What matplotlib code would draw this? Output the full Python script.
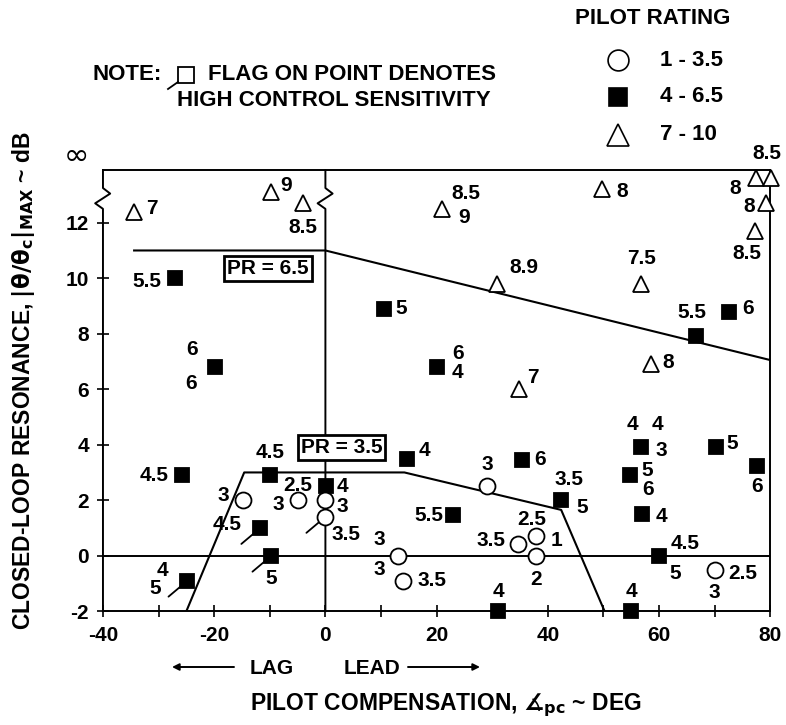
import matplotlib.pyplot as plt
from matplotlib.lines import Line2D

plt.rcParams['font.family'] = ['Liberation Sans', 'DejaVu Sans']
plt.rcParams['font.weight'] = 'bold'
plt.rcParams['axes.unicode_minus'] = False
plt.rcParams['mathtext.default'] = 'bf'

# pilot rating 4 - 6.5 (filled squares)
sq_x = [-27, -19.8, 10.6, 20, 66.7, 72.5, -25.7, -9.9, 0.1, -11.7, -9.7, -24.8,
        14.7, 22.9, 35.4, 42.3, 31.1, 55, 60, 56.8, 54.7, 57, 70.3, 77.7]
sq_y = [10.0, 6.8, 8.9, 6.8, 7.9, 8.8, 2.9, 2.9, 2.5, 1.0, 0.0, -0.9,
        3.5, 1.45, 3.45, 2.0, -2.0, -2.0, 0.0, 3.9, 2.9, 1.5, 3.9, 3.25]
sq_pr = [['5.5'], ['6', '6'], ['5'], ['6', '4'], ['5.5'], ['6'], ['4.5'], ['4.5'],
         ['4'], ['4.5'], ['5'], ['4', '5'], ['4'], ['5.5'], ['6'], ['3.5', '5'],
         ['4'], ['4'], ['4.5', '5'], ['4', '4', '3'], ['5', '6'], ['4'], ['5'], ['6']]
sq_flag = [9, 10, 11]

# pilot rating 1 - 3.5 (open circles)
circ_x = [-14.9, -5, 0, 0, 13, 13.9, 29.1, 37.9, 34.7, 37.8, 70]
circ_y = [2.0, 2.0, 2.0, 1.4, 0.0, -0.9, 2.5, 0.7, 0.43, 0.0, -0.5]
circ_pr = [['3'], ['2.5', '3'], ['3'], ['3.5'], ['3', '3'], ['3.5'], ['3'],
           ['2.5', '1'], ['3.5'], ['2'], ['2.5', '3']]
circ_flag = [3]

# pilot rating 7 - 10 (open triangles)
tri_x = [-34.4, -9.7, -4.1, 21, 49.8, 77.5, 80.2, 79.3, 77.3, 30.8, 56.7, 34.9, 58.5]
tri_y = [12.4, 13.1, 12.7, 12.5, 13.2, 13.6, 13.6, 12.7, 11.7, 9.8, 9.8, 6.0, 6.9]
tri_pr = [['7'], ['9'], ['8.5'], ['8.5', '9'], ['8'], ['8'], ['8.5'], ['8'], ['8.5'],
          ['8.9'], ['7.5'], ['7'], ['8']]

# boundaries
pr65_x = [-34.4, 0, 80]
pr65_y = [11, 11, 7.05]
pr35_x = [-25, -14.6, 14.2, 42.4, 50.2]
pr35_y = [-2, 3, 3, 1.65, -2]

# label offsets (pixels, right / up)
sq_off = [[(-28, -3)], [(-23, 18), (-24, -16)], [(17, 0)], [(21, 14), (21, -5)],
          [(-4, 24)], [(19, 3)], [(-28, 0)], [(0, 23)], [(16, 0)], [(-33, 3)],
          [(0, -23)], [(-25, 10), (-32, -8)], [(17, 8)], [(-24, 0)], [(18, 0)],
          [(8, 21), (22, -7)], [(0, 20)], [(0, 20)], [(26, 12), (16, -18)],
          [(-9, 23), (16, 23), (20, -3)], [(18, 5), (18, -14)], [(19, -2)],
          [(16, 4)], [(0, -21)]]
circ_off = [[(-19, 5)], [(0, 15), (-19, -4)], [(17, -6)], [(21, -18)],
            [(-18, 16), (-18, -14)], [(29, 0)], [(0, 22)], [(-4, 17), (20, -4)],
            [(-27, 3)], [(0, -24)], [(28, -4), (0, -23)]]
tri_off = [[(18, 3)], [(15, 7)], [(0, -24)], [(24, 15), (22, -9)], [(20, -2)],
           [(-21, -10)], [(-5, 25)], [(-17, -3)], [(-8, -22)], [(27, 16)],
           [(1, 25)], [(13, 12)], [(17, 2)]]

FS = 15
W, H = 786, 725


def fx(px):
    return px / W


def fy(py):
    return 1 - py / H


fig = plt.figure(figsize=(7.86, 7.25), dpi=100)
ax = fig.add_axes([0.131, 0.157, 0.849, 0.6085])
ax.set_xlim(-40, 80)
ax.set_ylim(-2, 13.9)

for s in ['top', 'right', 'bottom']:
    ax.spines[s].set_linewidth(1.4)
ax.spines['left'].set_visible(False)

# left axis and zero line with break
zz_y = [13.9, 13.25, 13.05, 12.7, 12.5, -2]
zz_dx = [0, 0, 1.3, -1.4, 0, 0]
ax.plot([-40 + d for d in zz_dx], zz_y, color='black', lw=1.4, clip_on=False)
ax.plot([0 + d for d in zz_dx], zz_y, color='black', lw=1.4, clip_on=False)
ax.axhline(0, color='black', lw=1.4)

ax.plot(pr65_x, pr65_y, color='black', lw=1.5)
ax.plot(pr35_x, pr35_y, color='black', lw=1.5)

ax.text(-10.4, 10.35, 'PR = 6.5', ha='center', va='center', fontsize=FS,
        bbox=dict(boxstyle='square,pad=0.15', fc='white', ec='black', lw=2))
ax.text(2.9, 3.9, 'PR = 3.5', ha='center', va='center', fontsize=FS,
        bbox=dict(boxstyle='square,pad=0.15', fc='white', ec='black', lw=2))


def draw_set(xs, ys, prs, offs, flags, marker, ms, fc):
    ax.plot(xs, ys, ls='none', marker=marker, ms=ms, mfc=fc, mec='black',
            mew=1.3, clip_on=False, zorder=5)
    for i in range(len(xs)):
        for txt, (dx, dy) in zip(prs[i], offs[i]):
            ax.annotate(txt, (xs[i], ys[i]), xytext=(dx, dy), textcoords='offset pixels',
                        ha='center', va='center', fontsize=FS, annotation_clip=False)
    for i in flags:
        ax.annotate('', (xs[i], ys[i]), xytext=(-19, -16), textcoords='offset pixels',
                    arrowprops=dict(arrowstyle='-', lw=1.3, shrinkA=0, shrinkB=6))


draw_set(sq_x, sq_y, sq_pr, sq_off, sq_flag, 's', 10, 'black')
draw_set(circ_x, circ_y, circ_pr, circ_off, circ_flag, 'o', 11.5, 'white')
draw_set(tri_x, tri_y, tri_pr, tri_off, [], '^', 11.5, 'white')

ax.set_xticks(range(-40, 81, 20))
ax.set_xticks(range(-30, 80, 20), minor=True)
ax.set_yticks(range(-2, 13, 2))
ax.tick_params(which='both', direction='inout', length=8, width=1.2, labelsize=FS)
ax.tick_params(axis='x', pad=7)
ax.tick_params(axis='y', pad=6)
ax.tick_params(right=False, top=False)

fig.text(fx(76), fy(156), '∞', fontsize=22, ha='center', va='center',
         family='DejaVu Sans', fontweight='normal')

fig.text(fx(24), fy(381), r'CLOSED-LOOP RESONANCE, $|\theta/\theta_c|_{\mathrm{MAX}}$ ~ dB',
         rotation=90, ha='center', va='center', fontsize=16.5)

# lag / lead
fig.text(fx(272), fy(668), 'LAG', ha='center', va='center', fontsize=FS)
fig.text(fx(372), fy(668), 'LEAD', ha='center', va='center', fontsize=FS)
ax.annotate('', xy=(fx(172), fy(667)), xytext=(fx(234), fy(667)),
            xycoords='figure fraction', annotation_clip=False,
            arrowprops=dict(arrowstyle='-|>', lw=1.4, color='black', shrinkA=0, shrinkB=0))
ax.annotate('', xy=(fx(480), fy(667)), xytext=(fx(408), fy(667)),
            xycoords='figure fraction', annotation_clip=False,
            arrowprops=dict(arrowstyle='-|>', lw=1.4, color='black', shrinkA=0, shrinkB=0))
fig.text(fx(446), fy(705), r'PILOT COMPENSATION, $∡_{\mathrm{pc}}$ ~ DEG',
         ha='center', va='center', fontsize=16.5)

# note
fig.text(fx(92), fy(75), 'NOTE:', ha='left', va='center', fontsize=16)
fig.add_artist(Line2D([fx(186)], [fy(75)], marker='s', ms=12, mfc='white',
                      mec='black', mew=1.3))
fig.add_artist(Line2D([fx(178), fx(168)], [fy(82), fy(89)], color='black', lw=1.3))
fig.text(fx(208), fy(75), 'FLAG ON POINT DENOTES', ha='left', va='center', fontsize=16)
fig.text(fx(177), fy(100), 'HIGH CONTROL SENSITIVITY', ha='left', va='center',
         fontsize=16)

# legend
fig.text(fx(653), fy(18), 'PILOT RATING', ha='center', va='center', fontsize=16)
leg_y = [60, 97, 135]
leg_txt = ['1 - 3.5', '4 - 6.5', '7 - 10']
leg_mk = [('o', 15, 'white'), ('s', 13.5, 'black'), ('^', 16, 'white')]
for yy, tt, (mk, ms, fc) in zip(leg_y, leg_txt, leg_mk):
    fig.add_artist(Line2D([fx(618)], [fy(yy)], marker=mk, ms=ms, mfc=fc,
                          mec='black', mew=1.2))
    fig.text(fx(660), fy(yy), tt, ha='left', va='center', fontsize=16)

fig.savefig('out.png', dpi=100)
